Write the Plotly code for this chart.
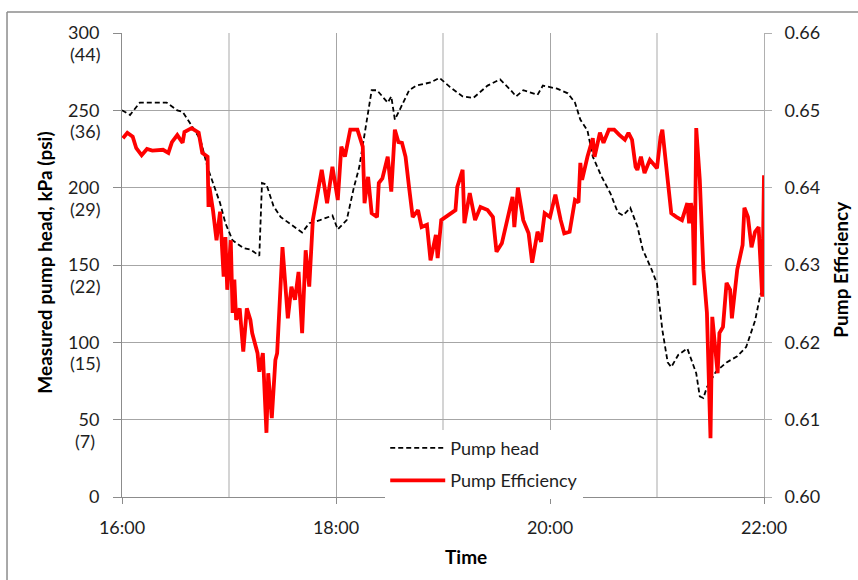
import pandas as pd
import plotly.graph_objects as go

# ---- data (minutes after 16:00) ----
head_min = [0, 4.5, 10, 16, 25, 31, 34, 38, 44, 48, 51, 55, 58, 62, 68, 72, 77, 78.5, 81, 85, 89, 94,
            101, 105, 111, 118, 121, 126, 130, 133, 137, 140, 143, 146, 149, 151, 153, 156, 161, 165,
            173, 178, 184, 191, 197, 205, 212, 218, 221, 225, 233, 236, 244, 250, 254, 257, 261, 264,
            269, 274, 278, 281, 285, 289, 292, 297, 300, 303, 306, 308, 312, 317, 320, 322, 324, 326,
            328, 333, 339, 345, 350, 355, 358, 360]
head_kpa = [250, 247, 255, 255, 255, 250, 249, 242, 231, 213, 203, 190, 177, 166, 161, 160, 156, 203,
            202, 188, 181, 177, 171, 177, 179, 182, 173, 179, 200, 213, 242, 263, 263, 259, 255, 259,
            244, 251, 263, 266, 268, 271, 265, 259, 258, 266, 270, 263, 259, 263, 260, 266, 264, 261,
            255, 244, 237, 220, 207, 196, 184, 182, 187, 175, 160, 147, 138, 108, 87, 84, 92, 96, 87,
            80, 65, 64, 71, 81, 87, 91, 97, 114, 131, 135]

eff_min = [0.5, 3, 6, 8, 11, 14, 17, 23, 26, 28, 31, 34, 35, 39, 43, 45, 48, 48.5, 49, 51, 53, 55, 57,
           58, 59, 61, 62, 63, 64, 66, 68, 70, 72, 73, 76, 77, 79, 81, 82, 84, 86, 87, 90, 93, 95, 97,
           99, 101, 103, 105, 107, 110, 112, 115, 118, 121, 123, 125, 128, 132, 135, 136, 138, 140,
           143, 144, 146, 149, 151, 153, 155, 157, 159, 161, 163, 166, 168, 171, 173, 176, 177, 179,
           184, 187, 188, 191, 192, 195, 198, 201, 205, 208, 210, 213, 216, 219, 220, 222, 225, 228,
           230, 233, 235, 237, 240, 243, 246, 248, 251, 254, 256, 257, 258, 261, 264, 265, 268, 270,
           273, 276, 279, 282, 284, 286, 288, 289, 291, 293, 296, 300, 302, 303, 306, 308, 311, 314,
           317, 318, 319, 320, 321, 322, 324, 326, 328, 330, 331, 334, 335, 337, 339, 341, 342, 344,
           345, 348, 349, 351, 353, 355, 357, 359, 360]
eff_val = [0.6464, 0.6471, 0.6466, 0.6451, 0.6442, 0.6450, 0.6448, 0.6449, 0.6445, 0.6459, 0.6468,
           0.6458, 0.6472, 0.6477, 0.6471, 0.6445, 0.6440, 0.6375, 0.6401, 0.6371, 0.6332, 0.6369,
           0.6285, 0.6336, 0.6268, 0.6332, 0.6238, 0.6281, 0.6229, 0.6244, 0.6188, 0.6244, 0.6229,
           0.6212, 0.6186, 0.6162, 0.6186, 0.6083, 0.6160, 0.6102, 0.6177, 0.6186, 0.6323, 0.6231,
           0.6272, 0.6255, 0.6291, 0.6212, 0.6319, 0.6272, 0.6358, 0.6397, 0.6423, 0.6380, 0.6427,
           0.6384, 0.6453, 0.6440, 0.6475, 0.6475, 0.6453, 0.6380, 0.6414, 0.6367, 0.6362, 0.6406,
           0.6412, 0.6440, 0.6395, 0.6475, 0.6459, 0.6458, 0.6440, 0.6400, 0.6362, 0.6371, 0.6349,
           0.6352, 0.6306, 0.6339, 0.6309, 0.6358, 0.6367, 0.6371, 0.6401, 0.6423, 0.6354, 0.6393,
           0.6358, 0.6375, 0.6371, 0.6362, 0.6317, 0.6328, 0.6358, 0.6388, 0.6349, 0.6400, 0.6358,
           0.6341, 0.6303, 0.6343, 0.6330, 0.6367, 0.6362, 0.6391, 0.6358, 0.6341, 0.6343, 0.6384,
           0.6381, 0.6432, 0.6410, 0.6440, 0.6464, 0.6440, 0.6471, 0.6458, 0.6475, 0.6475, 0.6468,
           0.6462, 0.6471, 0.6462, 0.6427, 0.6423, 0.6440, 0.6419, 0.6436, 0.6425, 0.6466, 0.6475,
           0.6410, 0.6367, 0.6362, 0.6358, 0.6380, 0.6354, 0.6380, 0.6367, 0.6274, 0.6477, 0.6410,
           0.6294, 0.6238, 0.6076, 0.6233, 0.6160, 0.6212, 0.6220, 0.6277, 0.6268, 0.6231, 0.6277,
           0.6294, 0.6326, 0.6374, 0.6362, 0.6323, 0.6343, 0.6349, 0.6259, 0.6416]

kpa_ticks = [0, 50, 100, 150, 200, 250, 300]
psi_labels = ["", "(7)", "(15)", "(22)", "(29)", "(36)", "(44)"]
eff_ticks = [0.60, 0.61, 0.62, 0.63, 0.64, 0.65, 0.66]

base = pd.Timestamp("2000-01-01 16:00")
head_t = base + pd.to_timedelta(head_min, unit="m")
eff_t = base + pd.to_timedelta(eff_min, unit="m")

FONT = "Lato, 'Open Sans', sans-serif"
TXT = "#1e1e1e"

fig = go.Figure()
fig.add_trace(go.Scatter(x=head_t, y=head_kpa, name="Pump head", mode="lines",
                         line=dict(color="black", width=1.8, dash="5px,3px"),
                         legendgroup="a", yaxis="y"))
fig.add_trace(go.Scatter(x=eff_t, y=eff_val, name="Pump Efficiency", mode="lines",
                         line=dict(color="#FF0000", width=3.8),
                         legendgroup="b", yaxis="y2"))

annotations = []
for v, lab in zip(kpa_ticks, psi_labels):
    if lab:
        annotations.append(dict(x=0, xref="paper", y=v, yref="y", text=lab, showarrow=False,
                                xanchor="center", xshift=-37, yshift=-21,
                                font=dict(family=FONT, size=18, color=TXT)))
annotations += [
    dict(x=-0.12, xref="paper", y=0.505, yref="paper", text="<b>Measured pump head, kPa (psi)</b>",
         textangle=-90, showarrow=False, xanchor="center", yanchor="middle",
         font=dict(family=FONT, size=19, color="black")),
    dict(x=1.12, xref="paper", y=0.49, yref="paper", text="<b>Pump Efficiency</b>",
         textangle=-90, showarrow=False, xanchor="center", yanchor="middle",
         font=dict(family=FONT, size=19, color="black")),
    dict(x=0.5355, xref="paper", y=-0.128, yref="paper", text="<b>Time</b>",
         showarrow=False, xanchor="center", yanchor="middle",
         font=dict(family=FONT, size=19, color="black")),
]

fig.update_layout(
    width=858, height=580, autosize=False,
    margin=dict(l=122, r=94, t=33, b=83),
    plot_bgcolor="white", paper_bgcolor="white",
    font=dict(family=FONT, size=18, color=TXT),
    showlegend=True,
    legend=dict(x=0.41, y=0.145, xanchor="left", yanchor="top", bgcolor="white",
                font=dict(family=FONT, size=18, color=TXT), tracegroupgap=6,
                itemwidth=55, traceorder="grouped"),
    xaxis=dict(type="date", range=[base, base + pd.Timedelta(hours=6)],
               tickformat="%H:%M", dtick=2 * 3600 * 1000, tick0=base,
               showgrid=True, gridcolor="#a6a6a6", gridwidth=1,
               minor=dict(dtick=3600 * 1000, showgrid=True, gridcolor="#d4d4d4", gridwidth=1.5),
               showline=True, linecolor="#8c8c8c", linewidth=1,
               ticks="outside", ticklen=6, tickcolor="#8c8c8c",
               ticklabelstandoff=8, zeroline=False),
    yaxis=dict(range=[0, 300], tickvals=kpa_ticks, showgrid=True, gridcolor="#a6a6a6",
               showline=True, linecolor="#8c8c8c", linewidth=1,
               ticks="outside", ticklen=8, tickcolor="#8c8c8c",
               ticklabelstandoff=10, zeroline=False),
    yaxis2=dict(range=[0.60, 0.66], tickvals=eff_ticks, tickformat=".2f", overlaying="y",
                side="right", showgrid=False, showline=True, linecolor="#b0b0b0",
                ticks="outside", ticklen=7, tickcolor="#b0b0b0",
                ticklabelstandoff=9, zeroline=False),
    annotations=annotations,
    shapes=[
        dict(type="line", xref="paper", yref="paper", x0=-0.1791, x1=1.2, y0=1.0453, y1=1.0453,
             line=dict(color="#8c8c8c", width=1.5)),
        dict(type="line", xref="paper", yref="paper", x0=-0.1791, x1=-0.1791, y0=1.0453, y1=-0.2,
             line=dict(color="#8c8c8c", width=1.5)),
    ],
)

fig.write_html("out.html")
